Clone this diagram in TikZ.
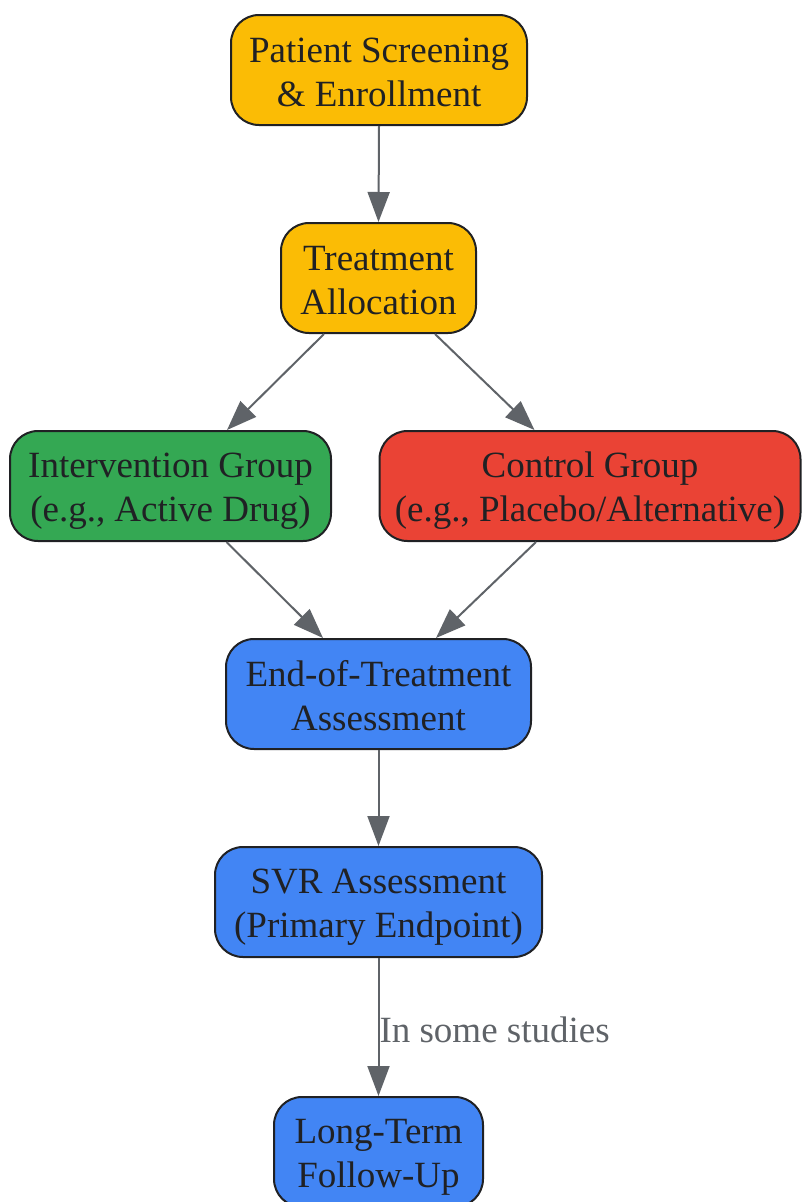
\documentclass[tikz,border=0pt]{standalone}
\usepackage{fontspec}
\setmainfont{Liberation Serif}
\usetikzlibrary{arrows.meta,calc}
\definecolor{cyellow}{HTML}{FBBC05}
\definecolor{cgreen}{HTML}{34A853}
\definecolor{cred}{HTML}{EA4335}
\definecolor{cblue}{HTML}{4285F4}
\definecolor{cborder}{HTML}{202124}
\definecolor{carrow}{HTML}{5F6368}
\newcommand{\twolines}[2]{\rule{0pt}{34pt}#1\\#2\rule[-5.4pt]{0pt}{5.4pt}}
\tikzset{
  box/.style={draw=cborder, line width=2pt, rounded corners=28pt, minimum height=110pt,
    align=center, text=cborder, inner sep=0pt,
    font=\fontsize{37pt}{44pt}\selectfont},
  conn/.style={draw=carrow, line width=2pt, -{Triangle[length=30pt,width=22pt]}},
  lbl/.style={text=carrow, font=\fontsize{37pt}{44pt}\selectfont, inner sep=0pt}
}
\begin{document}
\begin{tikzpicture}[x=1pt,y=-1pt]
\useasboundingbox (0,0) rectangle (802,1202);
\node[box, fill=cyellow, minimum width=296pt] (n1) at (379,70) {\twolines{Patient Screening}{\& Enrollment}};
\node[box, fill=cyellow, minimum width=195pt] (n2) at (378.5,278) {\twolines{Treatment}{Allocation}};
\node[box, fill=cgreen, minimum width=321pt] (n3) at (170.5,486) {\twolines{Intervention Group}{(e.g., Active Drug)}};
\node[box, fill=cred, minimum width=421pt] (n4) at (590,486) {\twolines{Control Group}{(e.g., Placebo/Alternative)}};
\node[box, fill=cblue, minimum width=305pt] (n5) at (378.5,694) {\twolines{End-of-Treatment}{Assessment}};
\node[box, fill=cblue, minimum width=327pt] (n6) at (378.5,902) {\twolines{SVR Assessment}{(Primary Endpoint)}};
\node[box, fill=cblue, minimum width=209pt] (n7) at (378.5,1152) {\twolines{Long-Term}{Follow-Up}};
\draw[conn] (n1.south) -- (n2.north);
\draw[conn] ($(n2.south)+(-54.5,0)$) -- ($(n3.north)+(56.5,0)$);
\draw[conn] ($(n2.south)+(56.5,0)$) -- ($(n4.north)+(-55.5,0)$);
\draw[conn] ($(n3.south)+(56,0)$) -- ($(n5.north)+(-55.5,0)$);
\draw[conn] ($(n4.south)+(-54,0)$) -- ($(n5.north)+(57.5,0)$);
\draw[conn] (n5.south) -- (n6.north);
\draw[conn] (n6.south) -- node[lbl, anchor=west, pos=0.52] (l1) {In some studies} (n7.north);
\end{tikzpicture}
\end{document}
